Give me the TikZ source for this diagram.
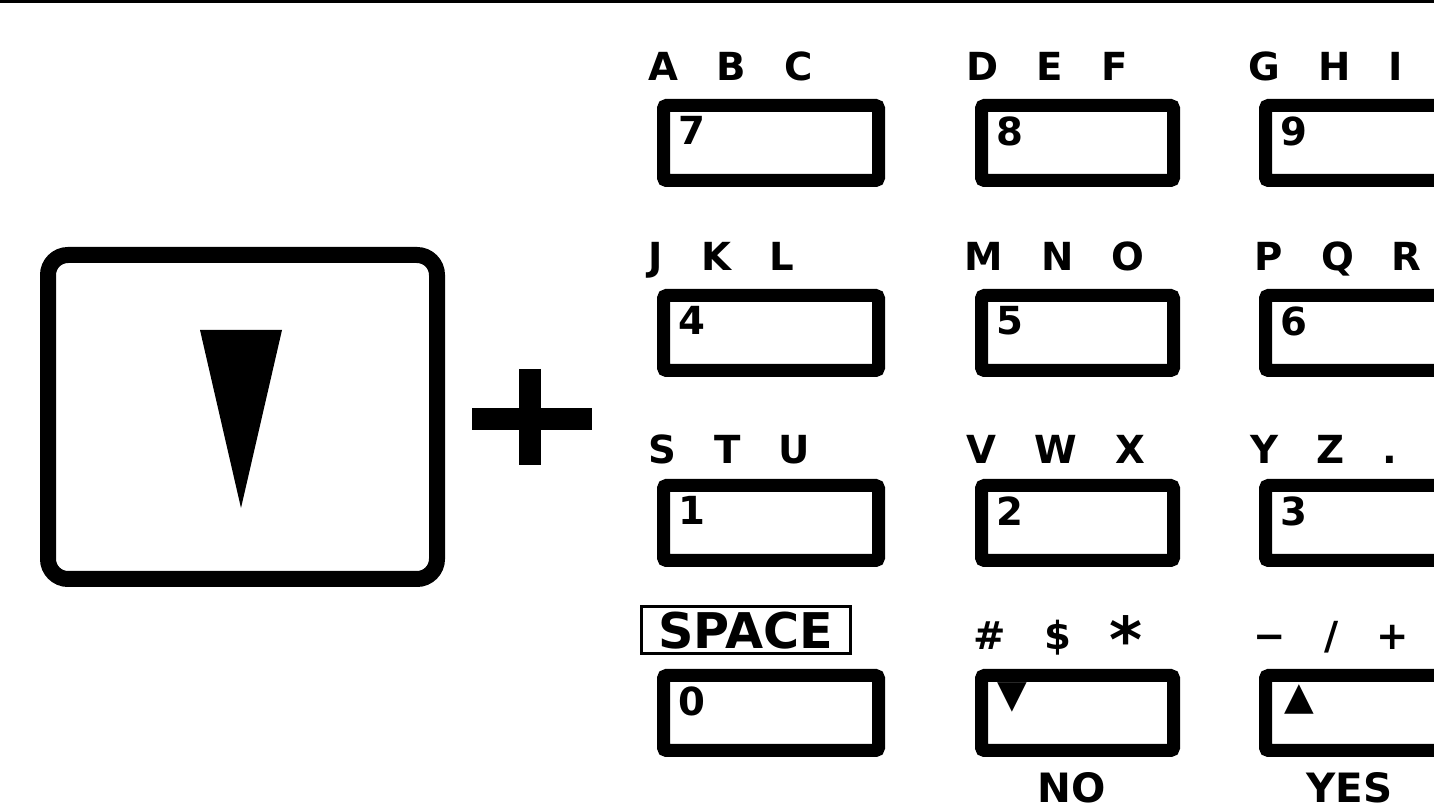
\documentclass[tikz,border=0pt]{standalone}
\usepackage{fontspec}
\setmainfont{DejaVu Sans}
\usepackage{tikz}
\usetikzlibrary{positioning,calc}
\definecolor{Ink}{HTML}{000000}
\newcommand{\kgap}{\hspace{0.38cm}}
\tikzset{
    % plain keys, thick black frame
    keybox/.style={
        rectangle,
        draw=Ink,
        fill=white,
        line width=0.13cm,
        rounded corners=0.03cm,
        minimum height=0.75cm,
        inner sep=0pt
    },
    keywide/.style={
        keybox,
        minimum width=2.15cm
    },
    keynarrow/.style={
        keybox,
        minimum width=1.92cm
    },
    bigkey/.style={
        rectangle,
        draw=Ink,
        fill=white,
        line width=0.16cm,
        rounded corners=0.2cm,
        minimum width=3.89cm,
        minimum height=3.24cm
    },
    keydigit/.style={
        inner sep=0pt,
        text=Ink,
        font=\fontsize{11}{13}\selectfont\bfseries
    },
    keyletters/.style={
        inner sep=0pt,
        text depth=0pt,
        text=Ink,
        font=\fontsize{11}{13}\selectfont\bfseries
    },
    spacebox/.style={
        rectangle,
        draw=Ink,
        line width=0.03cm,
        inner xsep=0.17cm,
        inner ysep=0.05cm,
        text depth=0pt,
        font=\fontsize{14}{16}\selectfont\bfseries
    },
    answer/.style={
        inner sep=0pt,
        text depth=0pt,
        font=\fontsize{11.5}{13}\selectfont\bfseries
    },
    plusbar/.style={
        draw=Ink,
        line width=0.22cm
    }
}
\begin{document}
\begin{tikzpicture}[node distance=1.02cm and 0.90cm]
    \useasboundingbox (0,0) rectangle (14.34,-8.09);
    \draw[Ink, line width=0.03cm] (0,-0.015) -- (14.34,-0.015);

    % the down key on the left
    \node[bigkey] (downkey) at (2.425,-4.17) {};
    \fill[Ink] ($(downkey.center)+(-0.425,0.87)$) -- ($(downkey.center)+(0.395,0.87)$)
        -- ($(downkey.center)+(-0.015,-0.91)$) -- cycle;

    \coordinate (plus) at (5.30,-4.19);
    \draw[plusbar] ($(plus)+(-0.58,0)$) -- ($(plus)+(0.62,0)$);
    \draw[plusbar] ($(plus)+(0,0.50)$) -- ($(plus)+(0,-0.46)$);

    % keypad
    \node[keywide] (k7) at (7.71,-1.43) {};
    \node[keynarrow, right=of k7] (k8) {};
    \node[keynarrow, right=0.79cm of k8] (k9) {};
    \node[keywide, below=of k7] (k4) {};
    \node[keynarrow, below=of k8] (k5) {};
    \node[keynarrow, below=of k9] (k6) {};
    \node[keywide, below=of k4] (k1) {};
    \node[keynarrow, below=of k5] (k2) {};
    \node[keynarrow, below=of k6] (k3) {};
    \node[keywide, below=of k1] (k0) {};
    \node[keynarrow, below=of k2] (kdown) {};
    \node[keynarrow, below=of k3] (kup) {};

    \node[keydigit, below right=0.17cm and 0.21cm of k7.north west] (d7) {7};
    \node[keydigit, below right=0.17cm and 0.21cm of k8.north west] (d8) {8};
    \node[keydigit, below right=0.17cm and 0.21cm of k9.north west] (d9) {9};
    \node[keydigit, below right=0.17cm and 0.21cm of k4.north west] (d4) {4};
    \node[keydigit, below right=0.17cm and 0.21cm of k5.north west] (d5) {5};
    \node[keydigit, below right=0.17cm and 0.21cm of k6.north west] (d6) {6};
    \node[keydigit, below right=0.17cm and 0.21cm of k1.north west] (d1) {1};
    \node[keydigit, below right=0.17cm and 0.21cm of k2.north west] (d2) {2};
    \node[keydigit, below right=0.17cm and 0.21cm of k3.north west] (d3) {3};
    \node[keydigit, below right=0.17cm and 0.21cm of k0.north west] (d0) {0};
    \node[keydigit, below right=0.13cm and 0.22cm of kdown.north west] (ddown) {▼};
    \node[keydigit, below right=0.15cm and 0.25cm of kup.north west] (dup) {▲};

    \node[keyletters, above right=0.18cm and -0.09cm of k7.north west] (l7) {A\kgap B\kgap C};
    \node[keyletters, above right=0.18cm and -0.09cm of k8.north west] (l8) {D\kgap E\kgap F};
    \node[keyletters, above right=0.18cm and -0.11cm of k9.north west] (l9) {G\kgap H\kgap I};
    \node[keyletters, above right=0.18cm and -0.09cm of k4.north west] (l4) {J\kgap K\kgap L};
    \node[keyletters, above right=0.18cm and -0.11cm of k5.north west] (l5) {M\kgap N\kgap O};
    \node[keyletters, above right=0.18cm and -0.05cm of k6.north west] (l6) {P\kgap Q\kgap R};
    \node[keyletters, above right=0.15cm and -0.09cm of k1.north west] (l1) {S\kgap T\kgap U};
    \node[keyletters, above right=0.15cm and -0.09cm of k2.north west] (l2) {V\kgap W\kgap X};
    \node[keyletters, above right=0.15cm and -0.09cm of k3.north west] (l3) {Y\kgap Z\kgap .};
    \node[spacebox, above right=0.14cm and -0.17cm of k0.north west] (l0) {SPACE};
    \node[keyletters, above right=0.19cm and -0.02cm of kdown.north west] (ldown) {\#\kgap\$\kgap\raisebox{-0.35em}{\fontsize{18}{18}\selectfont *}};
    \node[keyletters, above right=0.19cm and -0.06cm of kup.north west] (lup) {−\kgap/\kgap+};

    \node[answer, below=0.15cm of kdown, xshift=-0.06cm] (no) {NO};
    \node[answer, below=0.15cm of kup, xshift=-0.12cm] (yes) {YES};
\end{tikzpicture}
\end{document}
